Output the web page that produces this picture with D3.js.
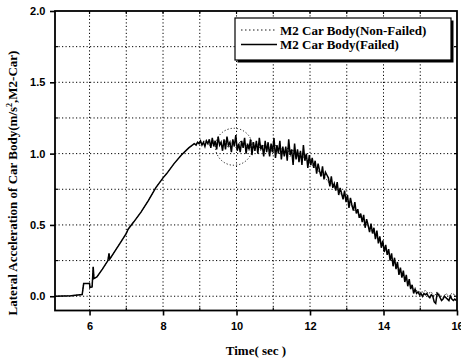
<!DOCTYPE html>
<html>
<head>
<meta charset="utf-8">
<script src="https://cdn.jsdelivr.net/npm/d3@7"></script>
<style>body{margin:0;background:#fff}</style>
</head>
<body>
<div id="chart"></div>
<script>
// rising part as [time, value] pairs (shared by both runs)
const risePoints = [[5.06,0],[5.5,0.004],[5.8,0.012],[5.84,0.089],[6.0,0.09],[6.01,0.061],[6.07,0.065],
  [6.1,0.206],[6.12,0.124],[6.2,0.135],[6.35,0.19],[6.5,0.25],[6.53,0.3],[6.55,0.26],[6.7,0.32],
  [6.85,0.38],[7.0,0.44],[7.05,0.47],[7.2,0.52],[7.4,0.59],[7.6,0.67],[7.8,0.76],[8.0,0.83],
  [8.1,0.86],[8.3,0.93],[8.5,0.99],[8.7,1.04],[8.85,1.07]];

// noisy part, sampled every 0.04 s from 8.90 s (failed)
const failedStart = 8.90, failedStep = 0.04;
const failedValues = [
  1.06,1.08,1.07,1.09,1.06,1.08,1.05,1.09,1.07,1.10,
  1.04,1.11,1.05,1.09,1.03,1.12,1.06,1.08,1.02,1.10,
  1.03,1.12,1.06,1.08,1.01,1.10,1.05,1.13,1.02,1.07,
  1.01,1.09,1.04,1.11,1.00,1.07,1.03,1.10,0.99,1.08,
  1.02,1.09,1.00,1.11,1.03,1.06,0.98,1.09,1.01,1.08,
  0.98,1.07,1.01,1.11,0.97,1.06,1.00,1.09,0.96,1.05,
  0.98,1.05,0.95,1.10,0.99,1.03,0.92,1.07,0.96,1.03,
  0.94,1.02,0.92,1.06,0.95,1.00,0.90,0.99,0.92,0.97,
  0.90,0.95,0.86,0.93,0.88,0.84,0.91,0.82,0.87,0.85,
  0.83,0.77,0.84,0.76,0.79,0.74,0.80,0.71,0.76,0.72,
  0.68,0.74,0.66,0.71,0.62,0.69,0.64,0.60,0.66,0.58,
  0.61,0.55,0.58,0.52,0.57,0.48,0.54,0.50,0.45,0.51,
  0.44,0.48,0.40,0.46,0.37,0.42,0.34,0.39,0.31,0.36,
  0.29,0.33,0.25,0.30,0.21,0.27,0.19,0.24,0.15,0.20,
  0.13,0.18,0.10,0.15,0.07,0.12,0.05,0.08,0.02,0.05,
  0.02,0.03,0.01,0.02,0.00,0.02,0.01,0.02,0.00,-0.01,
  0.01,0.00,-0.04,-0.05,0.02,0.01,-0.01,-0.03,-0.02,0.00,
  -0.01,-0.02,-0.03,0.00,-0.02,-0.03,-0.02,-0.03];

// noisy part, sampled every 0.08 s from 8.90 s (non-failed)
const nonFailedStart = 8.90, nonFailedStep = 0.08;
const nonFailedValues = [
  1.07,1.08,1.06,1.09,1.07,1.05,1.09,1.06,1.08,1.05,
  1.09,1.04,1.08,1.06,1.03,1.09,1.05,1.07,1.02,1.08,
  1.04,1.07,1.02,1.06,1.03,1.05,1.00,1.06,1.02,1.04,
  1.00,1.04,0.98,1.03,0.97,1.01,0.96,0.99,0.95,0.93,
  0.91,0.89,0.87,0.85,0.83,0.80,0.79,0.76,0.75,0.72,
  0.70,0.68,0.65,0.63,0.60,0.58,0.55,0.53,0.50,0.48,
  0.45,0.43,0.40,0.37,0.34,0.31,0.28,0.25,0.22,0.19,
  0.16,0.13,0.10,0.07,0.05,0.04,0.03,
  0.03,0.04,0.02,0.03,0.00,0.03,0.01,-0.01,0.02,0.00,0.02,0.01];

const xMajorTicks = [6, 8, 10, 12, 14, 16];
const xGrid = [6, 7, 8, 9, 10, 11, 12, 13, 14, 15];
const yMajorTicks = [0, 0.5, 1.0, 1.5, 2.0];
const yGrid = [0, 0.25, 0.5, 0.75, 1.0, 1.25, 1.5, 1.75];
const legendLabels = ["M2 Car Body(Non-Failed)", "M2 Car Body(Failed)"];
const circleNote = {t: 9.93, v: 1.048};

const W = 461, H = 359;
const m = {left: 55, right: 4, top: 11, bottom: 48.5};

const svg = d3.select("#chart").append("svg").attr("width", W).attr("height", H);

const x = d3.scaleLinear().domain([5.06, 16]).range([m.left, W - m.right]);
const y = d3.scaleLinear().domain([-0.1, 2.0]).range([H - m.bottom, m.top]);

const failed = risePoints.concat(failedValues.map((v, i) => [failedStart + i * failedStep, v]));
const nonFailed = risePoints.concat(nonFailedValues.map((v, i) => [nonFailedStart + i * nonFailedStep, v]));

// grid
const grid = svg.append("g").attr("stroke", "#000").attr("stroke-width", 1).attr("stroke-dasharray", "1.2,2.3");
grid.selectAll(".gx").data(xGrid).enter().append("line")
  .attr("x1", d => x(d)).attr("x2", d => x(d)).attr("y1", y(-0.1)).attr("y2", y(2.0));
grid.selectAll(".gy").data(yGrid).enter().append("line")
  .attr("x1", x(5.06)).attr("x2", x(16)).attr("y1", d => y(d)).attr("y2", d => y(d));

const line = d3.line().x(d => x(d[0])).y(d => y(d[1]));

svg.append("path").datum(nonFailed).attr("d", line)
  .attr("fill", "none").attr("stroke", "#333").attr("stroke-width", 1).attr("stroke-dasharray", "1.5,1.5");
svg.append("path").datum(failed).attr("d", line)
  .attr("fill", "none").attr("stroke", "#000").attr("stroke-width", 1.5);

// dotted circle annotation
svg.append("circle").attr("cx", x(circleNote.t)).attr("cy", y(circleNote.v)).attr("r", 18.5)
  .attr("fill", "none").attr("stroke", "#000").attr("stroke-width", 0.9).attr("stroke-dasharray", "1.2,2");

// frame
svg.append("rect").attr("x", x(5.06)).attr("y", y(2.0))
  .attr("width", x(16) - x(5.06)).attr("height", y(-0.1) - y(2.0))
  .attr("fill", "none").attr("stroke", "#000").attr("stroke-width", 1.8);

// axes
const axB = svg.append("g").attr("transform", `translate(0,${y(-0.1)})`)
  .call(d3.axisBottom(x).tickValues(xMajorTicks).tickSize(5).tickFormat(d3.format("d")));
const axL = svg.append("g").attr("transform", `translate(${x(5.06)},0)`)
  .call(d3.axisLeft(y).tickValues(yMajorTicks).tickSize(5).tickFormat(d3.format(".1f")));
[axB, axL].forEach(g => {
  g.select(".domain").remove();
  g.selectAll(".tick line").attr("stroke-width", 1.6);
  g.selectAll("text").attr("font-family", "Liberation Sans, Arial, sans-serif")
    .attr("font-weight", "bold").attr("font-size", 11).attr("fill", "#000");
});
axB.selectAll("text").attr("dy", "1.05em");
axL.selectAll("text").attr("dx", "-0.15em");

// minor inner ticks
const ticks = svg.append("g").attr("stroke", "#000").attr("stroke-width", 1.2);
ticks.selectAll(".mx").data(xGrid.filter(d => d % 2)).enter().append("line")
  .attr("x1", d => x(d)).attr("x2", d => x(d)).attr("y1", y(-0.1)).attr("y2", y(-0.1) - 3);
ticks.selectAll(".tx").data(xGrid).enter().append("line")
  .attr("x1", d => x(d)).attr("x2", d => x(d)).attr("y1", y(2.0)).attr("y2", y(2.0) + 3);
ticks.selectAll(".my").data(yGrid.filter(d => d % 0.5)).enter().append("line")
  .attr("x1", x(5.06)).attr("x2", x(5.06) + 3).attr("y1", d => y(d)).attr("y2", d => y(d));
ticks.selectAll(".ry").data(yGrid).enter().append("line")
  .attr("x1", x(16)).attr("x2", x(16) - 3).attr("y1", d => y(d)).attr("y2", d => y(d));

// axis titles
svg.append("text").attr("x", (x(5.06) + x(16)) / 2).attr("y", 355)
  .attr("text-anchor", "middle").attr("font-family", "Liberation Serif, Times New Roman, serif")
  .attr("font-weight", "bold").attr("font-size", 13).text("Time( sec )");

const yt = svg.append("text").attr("transform", "translate(17,183) rotate(-90)")
  .attr("text-anchor", "middle").attr("font-family", "Liberation Serif, Times New Roman, serif")
  .attr("font-weight", "bold").attr("font-size", 13);
yt.append("tspan").text("Lateral Acceleration of Car Body(m/s");
yt.append("tspan").attr("font-size", 8).attr("dy", -5).text("2");
yt.append("tspan").attr("dy", 5).text(",M2-Car)");

// legend
const lg = svg.append("g").attr("transform", "translate(235,18)");
lg.append("rect").attr("x", 2.5).attr("y", 2.5).attr("width", 216).attr("height", 42).attr("fill", "#000");
lg.append("rect").attr("width", 216).attr("height", 42).attr("fill", "#fff").attr("stroke", "#000").attr("stroke-width", 1.2);
const rows = lg.selectAll(".row").data(legendLabels).enter().append("g")
  .attr("transform", (d, i) => `translate(0,${12 + i * 14.5})`);
rows.append("line").attr("x1", 6).attr("x2", 42).attr("y1", 0).attr("y2", 0)
  .attr("stroke", "#000").attr("stroke-width", (d, i) => i ? 1.3 : 0.9)
  .attr("stroke-dasharray", (d, i) => i ? null : "1.5,2.5");
rows.append("text").attr("x", 45).attr("y", 4.5)
  .attr("font-family", "Liberation Serif, Times New Roman, serif")
  .attr("font-weight", "bold").attr("font-size", 13).text(d => d);
</script>
</body>
</html>
